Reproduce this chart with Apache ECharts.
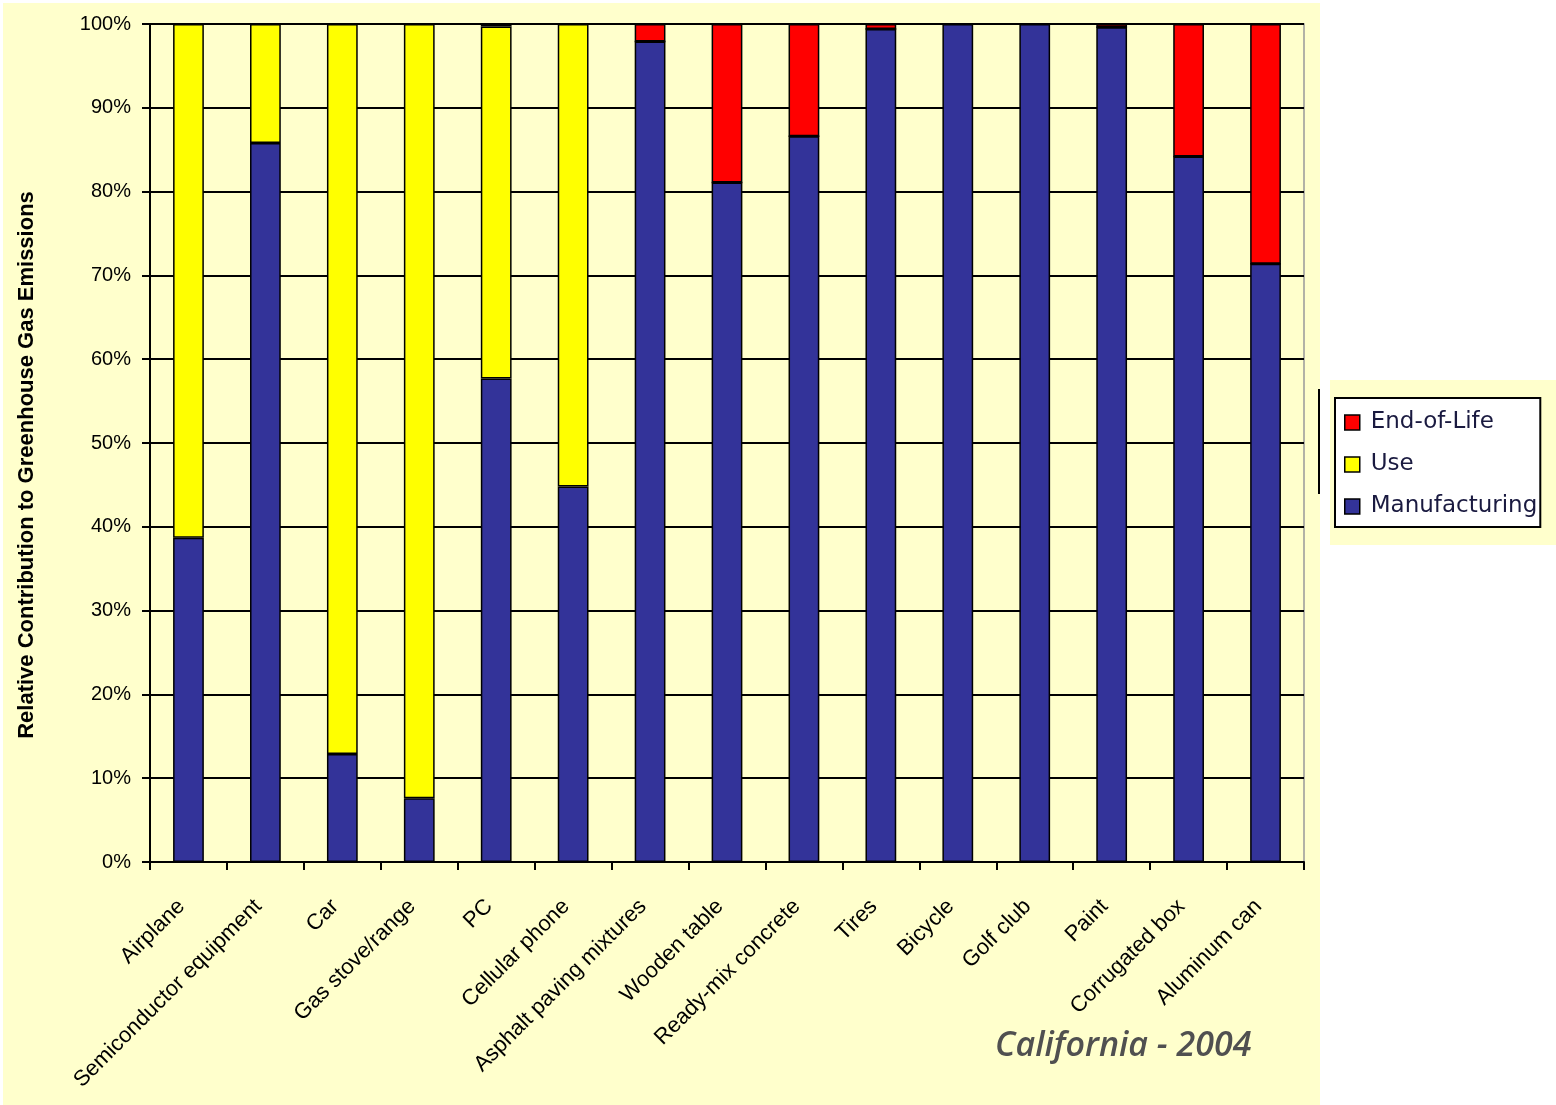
<!DOCTYPE html>
<html>
<head>
<meta charset="utf-8">
<script src="https://cdn.jsdelivr.net/npm/echarts@6/dist/echarts.min.js"></script>
<style>
html,body{margin:0;padding:0;background:#fff;}
#chart{width:1556px;height:1105px;}
</style>
</head>
<body>
<div id="chart"></div>
<script>
const categories = ['Airplane','Semiconductor equipment','Car','Gas stove/range','PC','Cellular phone','Asphalt paving mixtures','Wooden table','Ready-mix concrete','Tires','Bicycle','Golf club','Paint','Corrugated box','Aluminum can'];
const manufacturing = [38.7, 85.8, 12.9, 7.6, 57.7, 44.8, 97.9, 81.1, 86.6, 99.4, 100, 100, 99.6, 84.2, 71.4];
const use = [61.3, 14.2, 87.1, 92.4, 42.0, 55.2, 0, 0, 0, 0, 0, 0, 0, 0, 0];
const endOfLife = [0, 0, 0, 0, 0.3, 0, 2.1, 18.9, 13.4, 0.6, 0, 0, 0.4, 15.8, 28.6];
const yTicks = [0,10,20,30,40,50,60,70,80,90,100];

const chart = echarts.init(document.getElementById('chart'));
const barBase = {
  type: 'bar', stack: 'total', barWidth: '40%',
  emphasis: { disabled: true }
};
chart.setOption({
  backgroundColor: '#ffffff',
  animation: false,
  graphic: [
    { type: 'rect', z: -10, shape: { x: 3, y: 3, width: 1317, height: 1102 }, style: { fill: '#FFFFCC' } },
    { type: 'rect', z: -10, shape: { x: 1330, y: 380, width: 226, height: 165 }, style: { fill: '#FFFFCC' } },
    { type: 'rect', z: -9, shape: { x: 1318, y: 389, width: 2, height: 105 }, style: { fill: '#000' } },
    { type: 'text', left: 995, top: 1029, style: { text: 'California - 2004', fontFamily: 'Open Sans', fontStyle: 'italic', fontWeight: 600, fontSize: 34, fill: '#505050' } },
    { type: 'text', x: 27, y: 465, rotation: Math.PI / 2,
      style: { text: 'Relative Contribution to Greenhouse Gas Emissions', fontFamily: 'Liberation Sans', fontWeight: 'bold', fontSize: 22, fill: '#000', align: 'center', verticalAlign: 'middle' } }
  ],
  legend: {
    orient: 'vertical', left: 1335, top: 398,
    data: ['End-of-Life', 'Use', 'Manufacturing'],
    icon: 'rect', itemWidth: 15, itemHeight: 15, itemGap: 19,
    backgroundColor: '#ffffff', borderColor: '#000', borderWidth: 2,
    padding: [13, 3, 9, 9],
    itemStyle: { borderColor: '#000', borderWidth: 1.5 },
    textStyle: { fontFamily: 'DejaVu Sans', fontSize: 23, color: '#1a1a40', padding: [0,0,0,6] }
  },
  grid: { left: 150, right: 252, top: 24, bottom: 243, show: true, borderColor: '#999', borderWidth: 1.5, backgroundColor: 'transparent' },
  xAxis: {
    type: 'category', data: categories,
    axisLine: { lineStyle: { color: '#000', width: 2 } },
    axisTick: { show: true, length: 8, lineStyle: { color: '#000', width: 2 } },
    axisLabel: { interval: 0, rotate: 45, margin: 34, padding: [0, 10, 0, 0], fontFamily: 'Liberation Sans', fontSize: 22, color: '#000' }
  },
  yAxis: {
    type: 'value', min: 0, max: 100, interval: 10,
    axisLine: { show: true, lineStyle: { color: '#000', width: 2 } },
    axisTick: { show: true, length: 8, lineStyle: { color: '#000', width: 2 } },
    splitLine: { lineStyle: { color: '#000', width: 2 } },
    axisLabel: { margin: 19, fontFamily: 'Liberation Sans', fontSize: 20, color: '#000',
      formatter: v => yTicks.includes(v) ? v + '%' : '' }
  },
  series: [
    Object.assign({}, barBase, { name: 'Manufacturing', data: manufacturing, itemStyle: { color: '#333399', borderColor: '#000', borderWidth: 1.5 } }),
    Object.assign({}, barBase, { name: 'Use', data: use, itemStyle: { color: '#FFFF00', borderColor: '#000', borderWidth: 1.5 } }),
    Object.assign({}, barBase, { name: 'End-of-Life', data: endOfLife, itemStyle: { color: '#FF0000', borderColor: '#000', borderWidth: 1.5 } })
  ]
});
</script>
</body>
</html>
